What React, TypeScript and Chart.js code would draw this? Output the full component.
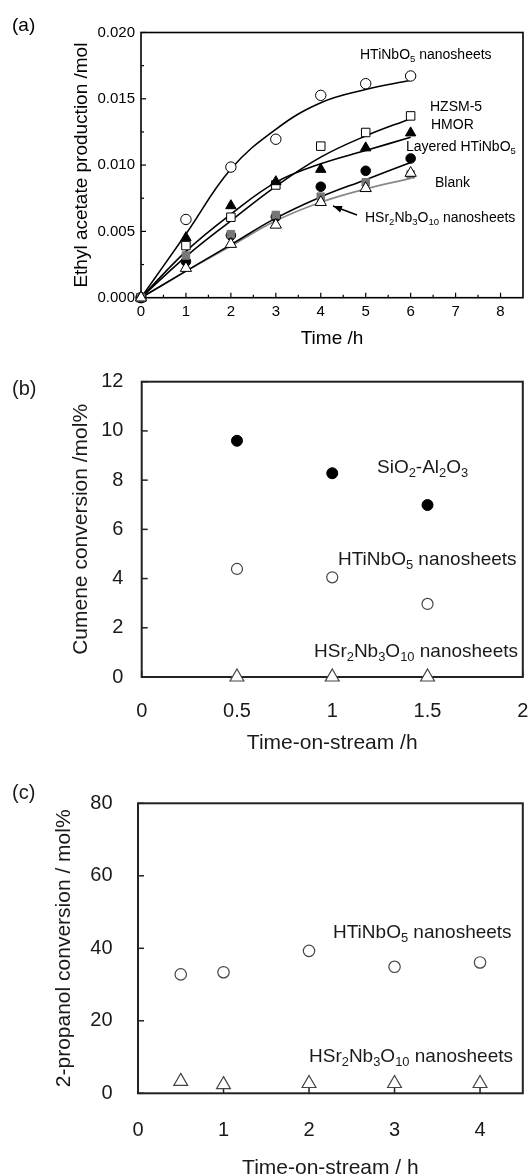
import React, { useEffect, useRef } from 'react';
import { Chart, registerables } from 'chart.js';

Chart.register(...registerables);

const FONT = "'Liberation Sans', Arial, Helvetica, sans-serif";

// ---------- Panel (a): ethyl acetate production ----------
const timeA = [0, 1, 2, 3, 4, 5, 6];
const htinbo5NanoA = [0, 0.0059, 0.00985, 0.01195, 0.01526, 0.01614, 0.01672];
const hzsm5A = [0, 0.00393, 0.00607, 0.0085, 0.01143, 0.01246, 0.01371];
const hmorA = [0, 0.00453, 0.00694, 0.00875, 0.00968, 0.0113, 0.01243];
const layeredA = [0, 0.00273, 0.0047, 0.0061, 0.00837, 0.00957, 0.0105];
const blankA = [0, 0.00318, 0.00479, 0.00624, 0.00762, 0.0087, 0.0093];
const hsrNanoA = [0, 0.00223, 0.00404, 0.00549, 0.0072, 0.00825, 0.0094];
// fitted curves (a)
const fitHTiNbO5A = [0, 0.0048, 0.0097, 0.0127, 0.0147, 0.0157, 0.0164];
const fitHZSM5A = [0, 0.0031, 0.0058, 0.0084, 0.0106, 0.0122, 0.0135];
const fitHMORA = [0, 0.0035, 0.0063, 0.0087, 0.0101, 0.0111, 0.0121];
const fitLayeredA = [0, 0.002, 0.004, 0.006, 0.0076, 0.0089, 0.0102];
const fitBlankA = [0, 0.002, 0.0039, 0.0058, 0.0072, 0.0082, 0.009];

// ---------- Panel (b): cumene conversion ----------
const timeB = [0.5, 1, 1.5];
const sioAlB = [9.6, 8.28, 6.99];
const htinbo5B = [4.39, 4.05, 2.97];
const hsrB = [0, 0, 0];

// ---------- Panel (c): 2-propanol conversion ----------
const timeC = [0.5, 1, 2, 3, 4];
const htinbo5C = [32.8, 33.4, 39.3, 34.9, 36.1];
const hsrC = [3.3, 2.4, 2.7, 2.7, 2.7];

const pts = (xs: number[], ys: number[]) => xs.map((x, i) => ({ x, y: ys[i] }));

type Seg = { t: string; sub?: boolean };
type Ann = { x: number; y: number; segs: Seg[] };

function drawSegs(ctx: CanvasRenderingContext2D, segs: Seg[], x: number, y: number, size: number, color: string) {
  let cx = x;
  ctx.textBaseline = 'middle';
  ctx.textAlign = 'left';
  ctx.fillStyle = color;
  for (const s of segs) {
    const fs = s.sub ? size * 0.68 : size;
    ctx.font = `${fs}px ${FONT}`;
    ctx.fillText(s.t, cx, s.sub ? y + size * 0.3 : y);
    cx += ctx.measureText(s.t).width;
  }
}

const framePlugin = {
  id: 'frame',
  beforeDatasetsDraw(chart: any, _args: any, o: any) {
    const { ctx, chartArea: ca } = chart;
    const xs = chart.scales.x;
    const ys = chart.scales.y;
    ctx.save();
    ctx.strokeStyle = o.boxColor;
    ctx.lineWidth = o.boxWidth;
    ctx.strokeRect(ca.left, ca.top, ca.right - ca.left, ca.bottom - ca.top);
    ctx.lineWidth = o.tickWidth;
    const line = (x1: number, y1: number, x2: number, y2: number) => {
      ctx.beginPath();
      ctx.moveTo(x1, y1);
      ctx.lineTo(x2, y2);
      ctx.stroke();
    };
    const xv: number[] = xs.ticks.map((t: any) => t.value);
    const yv: number[] = ys.ticks.map((t: any) => t.value);
    xv.forEach((v) => {
      const p = xs.getPixelForValue(v);
      line(p, ca.bottom, p, ca.bottom - o.tickLen);
    });
    yv.forEach((v) => {
      const p = ys.getPixelForValue(v);
      line(ca.left, p, ca.left + o.tickLen, p);
    });
    if (o.minor) {
      const dx = xv[1] - xv[0];
      xv.forEach((v) => {
        const m = v + dx / 2;
        if (m < xs.max - 1e-9) {
          const p = xs.getPixelForValue(m);
          line(p, ca.bottom, p, ca.bottom - o.minorLen);
        }
      });
      const dy = yv[1] - yv[0];
      yv.forEach((v) => {
        const m = v + dy / 2;
        if (m < ys.max - 1e-9) {
          const p = ys.getPixelForValue(m);
          line(ca.left, p, ca.left + o.minorLen, p);
        }
      });
    }
    ctx.restore();
  },
  afterDraw(chart: any, _args: any, o: any) {
    const { ctx } = chart;
    ctx.save();
    ctx.fillStyle = o.color;
    ctx.font = `${o.labelSize}px ${FONT}`;
    ctx.textBaseline = 'middle';
    ctx.textAlign = 'left';
    ctx.fillText(o.label, o.labelX, o.labelY);
    (o.anns as Ann[]).forEach((a) => drawSegs(ctx, a.segs, a.x, a.y, o.annSize, o.color));
    if (o.arrow) {
      const [x1, y1, x2, y2] = o.arrow;
      ctx.strokeStyle = o.color;
      ctx.lineWidth = 1.5;
      ctx.beginPath();
      ctx.moveTo(x1, y1);
      ctx.lineTo(x2, y2);
      ctx.stroke();
      const ang = Math.atan2(y2 - y1, x2 - x1);
      const L = 9;
      const W = 3.5;
      ctx.beginPath();
      ctx.moveTo(x2, y2);
      ctx.lineTo(x2 - L * Math.cos(ang) + W * Math.sin(ang), y2 - L * Math.sin(ang) - W * Math.cos(ang));
      ctx.lineTo(x2 - L * Math.cos(ang) - W * Math.sin(ang), y2 - L * Math.sin(ang) + W * Math.cos(ang));
      ctx.closePath();
      ctx.fill();
    }
    ctx.restore();
  },
};

type AxSpec = {
  xMin: number; xMax: number; xStep: number;
  yMin: number; yMax: number; yStep: number;
  yWidth: number; xHeight: number;
  tickSize: number; yTickPad: number; xTickPad: number;
  titleSize: number; xTitle: string; yTitle: string;
  xTitlePad: number; yTitlePad: number; color: string;
  yFmt?: (v: number) => string;
};

const fmt = (v: any) => String(Math.round(Number(v) * 1000) / 1000);

function axes(s: AxSpec) {
  const tickFont = { size: s.tickSize, family: FONT, lineHeight: 1.2 };
  const titleFont = { size: s.titleSize, family: FONT, lineHeight: 1.2 };
  return {
    x: {
      type: 'linear',
      min: s.xMin,
      max: s.xMax,
      grid: { display: false, drawTicks: false },
      border: { display: false },
      ticks: {
        stepSize: s.xStep,
        includeBounds: false,
        autoSkip: false,
        maxRotation: 0,
        padding: s.xTickPad,
        font: tickFont,
        color: s.color,
        callback: fmt,
      },
      title: {
        display: true,
        text: s.xTitle,
        font: titleFont,
        color: s.color,
        padding: { top: 0, bottom: s.xTitlePad },
      },
      afterFit: (sc: any) => {
        sc.height = s.xHeight;
        sc.paddingLeft = 0;
        sc.paddingRight = 0;
      },
    },
    y: {
      type: 'linear',
      min: s.yMin,
      max: s.yMax,
      grid: { display: false, drawTicks: false },
      border: { display: false },
      ticks: {
        stepSize: s.yStep,
        includeBounds: false,
        autoSkip: false,
        padding: s.yTickPad,
        font: tickFont,
        color: s.color,
        callback: s.yFmt ? (v: any) => s.yFmt!(Number(v)) : fmt,
      },
      title: {
        display: true,
        text: s.yTitle,
        font: titleFont,
        color: s.color,
        padding: { top: s.yTitlePad, bottom: 0 },
      },
      afterFit: (sc: any) => {
        sc.width = s.yWidth;
        sc.paddingTop = 0;
        sc.paddingBottom = 0;
      },
    },
  };
}

const fitLine = (data: number[], color: string) => ({
  type: 'line',
  data: pts(timeA, data),
  showLine: true,
  borderColor: color,
  borderWidth: 1.6,
  pointRadius: 0,
  fill: false,
  tension: 0.4,
  order: 5,
  clip: false,
});

const marker = (
  xs: number[], ys: number[], style: string, r: number,
  fill: string, stroke: string, bw: number
) => ({
  type: 'scatter',
  data: pts(xs, ys),
  showLine: false,
  pointStyle: style,
  pointRadius: r,
  pointBackgroundColor: fill,
  pointBorderColor: stroke,
  pointBorderWidth: bw,
  order: 1,
  clip: false,
});

function configA() {
  return {
    type: 'scatter',
    data: {
      datasets: [
        marker(timeA, hsrNanoA, 'triangle', 6.5, '#fff', '#000', 1),
        marker(timeA, blankA, 'rect', 5.3, '#777', '#777', 1),
        marker(timeA, layeredA, 'circle', 4.8, '#000', '#000', 1),
        marker(timeA, hmorA, 'triangle', 6, '#000', '#000', 1),
        marker(timeA, hzsm5A, 'rect', 6, '#fff', '#000', 1),
        marker(timeA, htinbo5NanoA, 'circle', 5.2, '#fff', '#000', 1),
        fitLine(fitHTiNbO5A, '#000'),
        fitLine(fitHZSM5A, '#000'),
        fitLine(fitHMORA, '#000'),
        fitLine(fitLayeredA, '#000'),
        fitLine(fitBlankA, '#888'),
      ],
    },
    options: {
      responsive: false,
      animation: false,
      devicePixelRatio: 1,
      layout: { padding: { left: 0, top: 32.5, right: 9, bottom: 0 } },
      plugins: {
        legend: { display: false },
        tooltip: { enabled: false },
        frame: {
          boxColor: '#000', boxWidth: 1.6, tickWidth: 1.2, tickLen: 5, minor: true, minorLen: 3,
          color: '#000', label: '(a)', labelX: 12, labelY: 26, labelSize: 19, annSize: 14,
          anns: [
            { x: 360, y: 55, segs: [{ t: 'HTiNbO' }, { t: '5', sub: true }, { t: ' nanosheets' }] },
            { x: 430, y: 107, segs: [{ t: 'HZSM-5' }] },
            { x: 431, y: 125, segs: [{ t: 'HMOR' }] },
            { x: 406, y: 147, segs: [{ t: 'Layered HTiNbO' }, { t: '5', sub: true }] },
            { x: 435, y: 183, segs: [{ t: 'Blank' }] },
            { x: 365, y: 218, segs: [{ t: 'HSr' }, { t: '2', sub: true }, { t: 'Nb' }, { t: '3', sub: true }, { t: 'O' }, { t: '10', sub: true }, { t: ' nanosheets' }] },
          ],
          arrow: [357, 215, 333, 206],
        },
      },
      scales: axes({
        xMin: 0, xMax: 8.5, xStep: 1, yMin: 0, yMax: 0.02, yStep: 0.005,
        yWidth: 141, xHeight: 360 - 297.7,
        tickSize: 15, yTickPad: 6, xTickPad: 5,
        titleSize: 19, xTitle: 'Time /h', yTitle: 'Ethyl acetate production /mol',
        xTitlePad: 9.6, yTitlePad: 70, color: '#000',
        yFmt: (v) => v.toFixed(3),
      }),
    },
    plugins: [framePlugin],
  };
}

function configB() {
  return {
    type: 'scatter',
    data: {
      datasets: [
        marker(timeB, hsrB, 'triangle', 8, '#fff', '#444', 1.2),
        marker(timeB, sioAlB, 'circle', 5.5, '#000', '#000', 1),
        marker(timeB, htinbo5B, 'circle', 5.5, '#fff', '#444', 1.2),
      ],
    },
    options: {
      responsive: false,
      animation: false,
      devicePixelRatio: 1,
      layout: { padding: { left: 0, top: 41.7, right: 8, bottom: 0 } },
      plugins: {
        legend: { display: false },
        tooltip: { enabled: false },
        frame: {
          boxColor: '#222', boxWidth: 2, tickWidth: 1.5, tickLen: 6, minor: false, minorLen: 0,
          color: '#1a1a1a', label: '(b)', labelX: 12, labelY: 49, labelSize: 20, annSize: 19,
          anns: [
            { x: 377, y: 128, segs: [{ t: 'SiO' }, { t: '2', sub: true }, { t: '-Al' }, { t: '2', sub: true }, { t: 'O' }, { t: '3', sub: true }] },
            { x: 338, y: 220, segs: [{ t: 'HTiNbO' }, { t: '5', sub: true }, { t: ' nanosheets' }] },
            { x: 314, y: 312, segs: [{ t: 'HSr' }, { t: '2', sub: true }, { t: 'Nb' }, { t: '3', sub: true }, { t: 'O' }, { t: '10', sub: true }, { t: ' nanosheets' }] },
          ],
        },
      },
      scales: axes({
        xMin: 0, xMax: 2, xStep: 0.5, yMin: 0, yMax: 12, yStep: 2,
        yWidth: 141.7, xHeight: 103,
        tickSize: 20, yTickPad: 18.3, xTickPad: 22.7,
        titleSize: 21, xTitle: 'Time-on-stream /h', yTitle: 'Cumene conversion /mol%',
        xTitlePad: 24, yTitlePad: 68.5, color: '#1a1a1a',
      }),
    },
    plugins: [framePlugin],
  };
}

function configC() {
  return {
    type: 'scatter',
    data: {
      datasets: [
        marker(timeC, hsrC, 'triangle', 8, '#fff', '#444', 1.2),
        marker(timeC, htinbo5C, 'circle', 5.7, '#fff', '#444', 1.2),
      ],
    },
    options: {
      responsive: false,
      animation: false,
      devicePixelRatio: 1,
      layout: { padding: { left: 0, top: 43.3, right: 8, bottom: 0 } },
      plugins: {
        legend: { display: false },
        tooltip: { enabled: false },
        frame: {
          boxColor: '#222', boxWidth: 2, tickWidth: 1.5, tickLen: 6, minor: false, minorLen: 0,
          color: '#1a1a1a', label: '(c)', labelX: 12, labelY: 33, labelSize: 20, annSize: 19,
          anns: [
            { x: 333, y: 172.7, segs: [{ t: 'HTiNbO' }, { t: '5', sub: true }, { t: ' nanosheets' }] },
            { x: 309, y: 296.7, segs: [{ t: 'HSr' }, { t: '2', sub: true }, { t: 'Nb' }, { t: '3', sub: true }, { t: 'O' }, { t: '10', sub: true }, { t: ' nanosheets' }] },
          ],
        },
      },
      scales: axes({
        xMin: 0, xMax: 4.5, xStep: 1, yMin: 0, yMax: 80, yStep: 20,
        yWidth: 138, xHeight: 96.7,
        tickSize: 20, yTickPad: 25.5, xTickPad: 24.7,
        titleSize: 21, xTitle: 'Time-on-stream / h', yTitle: '2-propanol conversion / mol%',
        xTitlePad: 9.1, yTitlePad: 51.6, color: '#1a1a1a',
      }),
    },
    plugins: [framePlugin],
  };
}

function Panel({ top, height, make }: { top: number; height: number; make: () => any }) {
  const ref = useRef<HTMLCanvasElement>(null);
  useEffect(() => {
    if (!ref.current) return;
    const chart = new Chart(ref.current, make());
    return () => chart.destroy();
  }, [make]);
  return (
    <canvas
      ref={ref}
      width={532}
      height={height}
      style={{ position: 'absolute', left: 0, top, width: 532, height, display: 'block' }}
    />
  );
}

export default function App() {
  return (
    <div style={{ position: 'absolute', left: 0, top: 0, width: 532, height: 1176, overflow: 'hidden', background: '#fff' }}>
      <Panel top={0} height={360} make={configA} />
      <Panel top={340} height={440} make={configB} />
      <Panel top={760} height={430} make={configC} />
    </div>
  );
}
